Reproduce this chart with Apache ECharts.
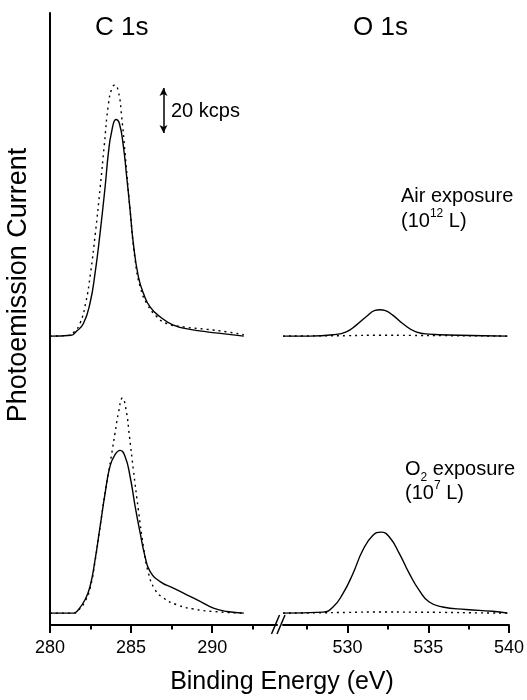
<!DOCTYPE html>
<html>
<head>
<meta charset="utf-8">
<script src="https://cdn.jsdelivr.net/npm/echarts@6/dist/echarts.min.js"></script>
<style>
  html, body { margin: 0; padding: 0; background: #fff; }
  #chart { width: 527px; height: 700px; }
</style>
</head>
<body>
<div id="chart"></div>
<script>
// Binding energies (eV) and photoemission intensities (kcps, above each baseline)
const cAirSolid = [[280.0,0],[281.3,0.4],[281.6,1.9],[282.06,5.6],[282.47,14.7],[282.78,28],[283.09,45.9],[283.4,66.4],[283.6,81.3],[283.8,90.8],[284.07,96.3],[284.28,94.5],[284.53,84.1],[284.73,70.8],[284.94,56],[285.14,41.2],[285.45,26.4],[285.76,19],[286.17,13],[286.79,8.6],[287.61,4.9],[288.64,3],[289.67,1.9],[290.9,0.9],[291.95,0]];
const cAirDotted = [[280.0,0],[281.2,0.4],[281.5,1.9],[281.85,5.6],[282.2,14.7],[282.5,28],[282.8,45.9],[283.1,66.4],[283.35,85],[283.6,103],[283.81,110],[283.99,111.6],[284.22,108.6],[284.42,97.5],[284.63,81.2],[284.94,56],[285.25,33.8],[285.56,21.9],[285.97,14.5],[286.59,8.6],[287.2,5.6],[288.23,4.1],[289.67,3],[290.9,1.9],[291.95,0.6]];
const cO2Solid = [[280.0,0],[281.44,0],[281.75,1.5],[282.16,5.9],[282.47,11.8],[282.78,23.7],[283.09,38.5],[283.4,53.3],[283.7,65.2],[284.01,70.4],[284.32,72.3],[284.63,69.6],[284.94,60.7],[285.25,47.4],[285.56,35.6],[285.86,25.2],[286.17,18.5],[286.79,14],[287.61,11.1],[288.44,8.1],[289.26,5.2],[290.08,2.2],[290.9,0.7],[291.95,0]];
const cO2Dotted = [[280.0,0],[281.44,0],[281.75,1.2],[282.16,5.2],[282.47,11],[282.78,23],[283.09,38.5],[283.4,53.5],[283.6,62],[283.81,71],[284.01,80],[284.22,88.9],[284.47,95.6],[284.69,90.4],[284.9,78.5],[285.14,63.7],[285.45,45.9],[285.76,29.6],[286.07,17.8],[286.48,10.4],[287.0,6.7],[287.82,3.7],[288.85,1.8],[290.08,0.7],[291.95,0]];
const oAirSolid = [[526.0,0],[527.65,0],[529.1,0.6],[529.92,1.9],[530.54,4.9],[531.15,8.6],[531.7,11.4],[532.0,11.7],[532.3,11.4],[532.8,9.3],[533.41,5.6],[534.24,1.9],[535.06,0.9],[536.91,0.4],[539.9,0]];
const oAirDotted = [[526.0,0],[528,0.1],[530,0.2],[532,0.4],[534,0.3],[536,0.2],[538,0.1],[540,0]];
const oO2Solid = [[526.0,0],[528.48,0.4],[529.1,2.7],[529.71,8.6],[530.33,17.5],[530.94,27.9],[531.56,34.5],[532.08,36],[532.59,33.8],[533.21,26.4],[533.83,17.5],[534.44,10.1],[535.06,4.9],[535.88,2.7],[537.33,1.6],[538.97,0.8],[539.9,0]];
const oO2Dotted = [[526.0,0],[528,0.1],[530,0.3],[532,0.5],[534,0.4],[536,0.3],[538,0.1],[540,0]];

// Vertical offsets (kcps) used to stack the two exposures
const offsetAir = 128.4;
const offsetO2 = 5.3;

// Scale bar: 20 kcps drawn at 287 eV
const scaleBarE = 287;
const scaleBarBottom = 218.7;
const scaleBarSpan = 20;

// Axis tick values
const cRange = [280, 294];
const oRange = [526, 540];
const cMajorTicks = [280, 285, 290];
const cMinorTicks = [282.5, 287.5, 292.5];
const oMajorTicks = [530, 535, 540];
const oMinorTicks = [527.5, 532.5, 537.5];
const yRange = [0, 272];

const FONT = '"Liberation Sans", Arial, Helvetica, sans-serif';

function shift(data, off) { return data.map(p => [p[0], p[1] + off]); }

const chart = echarts.init(document.getElementById('chart'), null, { renderer: 'canvas' });

const axisLineStyle = { color: '#000', width: 2 };

function majorAxis(gridIndex, range, ticks) {
  return {
    type: 'value', gridIndex, position: 'bottom', min: range[0], max: range[1],
    axisLine: { show: true, onZero: false, lineStyle: axisLineStyle },
    axisTick: { show: true, customValues: ticks, length: 8, lineStyle: { color: '#000', width: 2 } },
    axisLabel: { show: true, customValues: ticks, margin: 14, color: '#000', fontSize: 18, fontFamily: FONT },
    splitLine: { show: false }
  };
}
function minorAxis(gridIndex, range, ticks) {
  return {
    type: 'value', gridIndex, position: 'bottom', min: range[0], max: range[1],
    axisLine: { show: false, onZero: false },
    axisTick: { show: true, customValues: ticks, length: 4.5, lineStyle: { color: '#000', width: 2 } },
    axisLabel: { show: false },
    splitLine: { show: false }
  };
}

function solid(name, data, xi, off) {
  return {
    name, type: 'line', xAxisIndex: xi, yAxisIndex: xi, data: shift(data, off),
    showSymbol: false, smooth: 0.5, z: 3,
    lineStyle: { color: '#000', width: 1.4, type: 'solid' }
  };
}
function dotted(name, data, xi, off) {
  return {
    name, type: 'line', xAxisIndex: xi, yAxisIndex: xi, data: shift(data, off),
    showSymbol: false, smooth: 0.5, z: 2,
    lineStyle: { color: '#000', width: 1.4, type: [2, 4] }
  };
}

const series = [
  dotted('C 1s air ref', cAirDotted, 0, offsetAir),
  solid('C 1s air', cAirSolid, 0, offsetAir),
  dotted('C 1s O2 ref', cO2Dotted, 0, offsetO2),
  solid('C 1s O2', cO2Solid, 0, offsetO2),
  dotted('O 1s air ref', oAirDotted, 1, offsetAir),
  solid('O 1s air', oAirSolid, 1, offsetAir),
  dotted('O 1s O2 ref', oO2Dotted, 1, offsetO2),
  solid('O 1s O2', oO2Solid, 1, offsetO2)
];
// Scale bar as a double-headed markLine in the C 1s panel
series[1].markLine = {
  silent: true, symbol: ['arrow', 'arrow'], symbolSize: [6, 8],
  label: { show: false },
  lineStyle: { color: '#000', width: 1.5, type: 'solid' },
  data: [[{ coord: [scaleBarE, scaleBarBottom] }, { coord: [scaleBarE, scaleBarBottom + scaleBarSpan] }]]
};

const txt = (text, x, y, size, extra) => ({
  type: 'text', x, y, silent: true,
  style: Object.assign({ text, fill: '#000', fontSize: size, fontFamily: FONT, align: 'left', verticalAlign: 'middle' }, extra || {})
});

const supStyle = { fontSize: 12, lineHeight: 14, verticalAlign: 'top', fontFamily: FONT, fill: '#000' };
const subStyle = { fontSize: 12, lineHeight: 12, verticalAlign: 'bottom', fontFamily: FONT, fill: '#000' };

const graphics = [
  txt('C 1s', 95, 28, 26),
  txt('O 1s', 353, 28, 26),
  txt('20 kcps', 171, 111, 20),
  txt('Air exposure', 401, 196, 20),
  txt('(10{sup|12} L)', 401, 221, 20, { lineHeight: 26, rich: { sup: supStyle } }),
  txt('O{sub|2} exposure', 405, 469, 20, { lineHeight: 30, rich: { sub: subStyle } }),
  txt('(10{sup|7} L)', 405, 493, 20, { lineHeight: 26, rich: { sup: supStyle } }),
  txt('Binding Energy (eV)', 282, 682, 25, { align: 'center' }),
  { type: 'text', x: 19, y: 285, rotation: Math.PI / 2, silent: true,
    style: { text: 'Photoemission Current', fill: '#000', fontSize: 27, fontFamily: FONT, align: 'center', verticalAlign: 'middle' } },
  // axis break marks
  { type: 'line', silent: true, shape: { x1: 271.5, y1: 634, x2: 279.5, y2: 615 }, style: { stroke: '#000', lineWidth: 1.5 } },
  { type: 'line', silent: true, shape: { x1: 277, y1: 634, x2: 285, y2: 615 }, style: { stroke: '#000', lineWidth: 1.5 } }
];

chart.setOption({
  animation: false,
  backgroundColor: '#fff',
  grid: [
    { left: 50, top: 13, width: 227, bottom: 75, containLabel: false },
    { left: 283, top: 13, width: 227, bottom: 75, containLabel: false }
  ],
  xAxis: [
    majorAxis(0, cRange, cMajorTicks),
    majorAxis(1, oRange, oMajorTicks),
    minorAxis(0, cRange, cMinorTicks),
    minorAxis(1, oRange, oMinorTicks)
  ],
  yAxis: [
    { type: 'value', gridIndex: 0, min: yRange[0], max: yRange[1],
      axisLine: { show: true, lineStyle: axisLineStyle }, axisTick: { show: false },
      axisLabel: { show: false }, splitLine: { show: false } },
    { type: 'value', gridIndex: 1, min: yRange[0], max: yRange[1], show: false,
      axisLine: { show: false }, axisTick: { show: false }, axisLabel: { show: false }, splitLine: { show: false } }
  ],
  series,
  graphic: { elements: graphics }
});
</script>
</body>
</html>
